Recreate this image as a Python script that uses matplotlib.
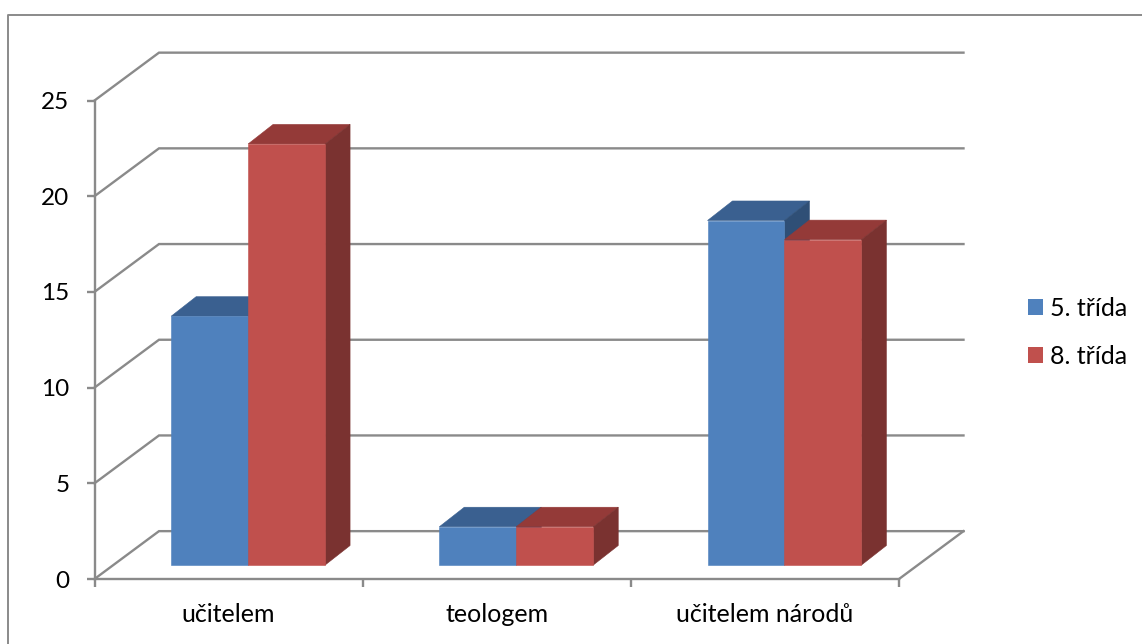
import matplotlib
matplotlib.use("Agg")
import numpy as np
import matplotlib.pyplot as plt
from matplotlib.lines import Line2D
from matplotlib.patches import Patch

# data
categories = ["učitelem", "teologem", "učitelem národů"]
series_names = ["5. třída", "8. třída"]
values_5 = [13, 2, 18]
values_8 = [22, 2, 17]
y_ticks = [0, 5, 10, 15, 20, 25]

# colours
face_colors = ["#4F81BD", "#C0504D"]
top_colors = ["#3A6090", "#943A38"]
side_colors = ["#2F4F76", "#7A3230"]
axis_color = "#8A8A8A"

W, H = 1142, 644
plt.rcParams["font.family"] = ["Lato", "DejaVu Sans"]
plt.rcParams["font.size"] = 18

fig = plt.figure(figsize=(W / 100, H / 100), dpi=100)
# axes = front plane of the 3D box
ax = fig.add_axes([94.5 / W, 1 - 579 / H, (899 - 94.5) / W, (579 - 100.5) / H])
ax.set_xlim(0, 3)
ax.set_ylim(0, 25)
ax.patch.set_alpha(0)

# depth of the box and of the bars, in data units
box_dx, box_dy = 0.2405, 2.5
bar_dx, bar_dy = 0.093, 1.02
bar_w = 0.287
bar_start = 0.286
floor = 0.73

# walls: gridlines go back from the front plane, then along the back wall
for v in y_ticks:
    ax.plot([0, box_dx, 3 + box_dx], [v, v + box_dy, v + box_dy],
            color=axis_color, lw=1.7, clip_on=False, zorder=1,
            solid_joinstyle="miter")
ax.plot([3, 3 + box_dx], [0, box_dy], color=axis_color, lw=1.7, clip_on=False, zorder=1)

# bars
x = np.arange(len(categories)) + bar_start
z = 3
for i, vals in enumerate([values_5, values_8]):
    for k in range(len(categories)):
        left = x[k] + i * bar_w
        right = left + bar_w
        top = floor + vals[k]
        ax.fill([left, left + bar_dx, right + bar_dx, right],
                [top, top + bar_dy, top + bar_dy, top],
                facecolor=top_colors[i], edgecolor=top_colors[i], lw=0.4,
                clip_on=False, zorder=z + i)
        ax.fill([right, right + bar_dx, right + bar_dx, right],
                [floor, floor + bar_dy, top + bar_dy, top],
                facecolor=side_colors[i], edgecolor=side_colors[i], lw=0.4,
                clip_on=False, zorder=z + i)
    ax.bar(x + i * bar_w, vals, bar_w, bottom=floor, align="edge",
           color=face_colors[i], edgecolor=face_colors[i], lw=0.4,
           clip_on=False, zorder=z + i)

# axes
for s in ["top", "right"]:
    ax.spines[s].set_visible(False)
for s in ["left", "bottom"]:
    ax.spines[s].set_color(axis_color)
    ax.spines[s].set_linewidth(1.7)
    ax.spines[s].set_zorder(2)
ax.set_yticks(y_ticks)
ax.set_xticks([0, 1, 2, 3])
ax.set_xticklabels([])
ax.set_xticks([0.5, 1.5, 2.5], categories, minor=True)
ax.tick_params(axis="both", which="major", length=6, width=1.7, color=axis_color)
ax.tick_params(axis="x", which="minor", length=0, pad=17)
ax.tick_params(axis="y", which="major", pad=12, labelsize=17.5)

# legend
handles = [Patch(color=c, lw=0, label=n) for c, n in zip(face_colors, series_names)]
fig.legend(handles=handles, loc="center left", bbox_to_anchor=(1028 / W, 1 - 332 / H),
           frameon=False, handlelength=0.6, handleheight=0.6, handletextpad=0.28,
           labelspacing=1.0, borderpad=0, borderaxespad=0)

# outer frame: only left and top edges are inside the picture
fig.add_artist(Line2D([7.5 / W, 7.5 / W, 1], [0, 1 - 15 / H, 1 - 15 / H],
                      color=axis_color, lw=1.4, transform=fig.transFigure))

fig.savefig("out.png", dpi=100)
